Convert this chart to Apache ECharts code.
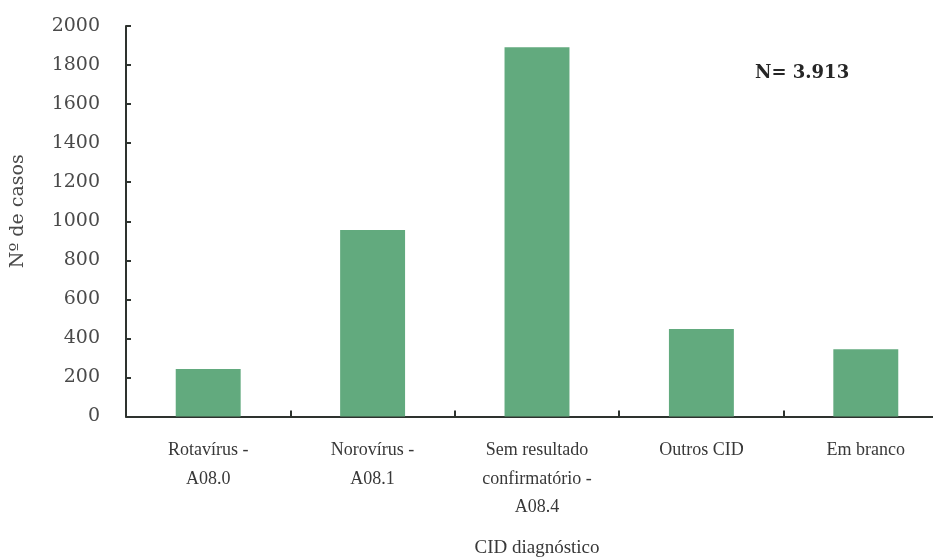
<!DOCTYPE html>
<html>
<head>
<meta charset="utf-8">
<script src="https://cdn.jsdelivr.net/npm/echarts@6/dist/echarts.min.js"></script>
<style>
  html, body { margin: 0; padding: 0; background: #fff; }
  #chart { width: 933px; height: 559px; }
</style>
</head>
<body>
<div id="chart"></div>
<script>
// Casos por CID diagnóstico
const categories = [
  'Rotavírus -\nA08.0',
  'Norovírus -\nA08.1',
  'Sem resultado\nconfirmatório -\nA08.4',
  'Outros CID',
  'Em branco'
];
const casos = [243, 955, 1891, 448, 344];
const yTicks = { min: 0, max: 2000, interval: 200 };
const totalLabel = 'N= 3.913';

const chart = echarts.init(document.getElementById('chart'));
chart.setOption({
  animation: false,
  backgroundColor: '#ffffff',
  grid: { left: 126, width: 822, top: 26, height: 390.5, outerBoundsMode: 'none', containLabel: false },
  graphic: [{
    type: 'text',
    left: 755,
    top: 64,
    style: {
      text: totalLabel,
      font: 'bold 18px "DejaVu Serif"',
      fill: '#262626'
    }
  }],
  xAxis: {
    type: 'category',
    data: categories,
    name: 'CID diagnóstico',
    nameLocation: 'middle',
    nameGap: 122,
    nameTextStyle: { fontFamily: 'Liberation Serif', fontSize: 19, color: '#383838' },
    axisLine: { lineStyle: { color: '#2e332f', width: 2 } },
    axisTick: { show: true, inside: true, length: 6, lineStyle: { color: '#2e332f', width: 2 } },
    axisLabel: {
      fontFamily: 'Liberation Serif',
      fontSize: 18,
      color: '#383838',
      lineHeight: 28.5,
      margin: 20,
      interval: 0
    }
  },
  yAxis: {
    type: 'value',
    min: yTicks.min,
    max: yTicks.max,
    interval: yTicks.interval,
    name: 'Nº de casos',
    nameLocation: 'middle',
    nameGap: 98,
    nameTextStyle: { fontFamily: 'DejaVu Serif', fontSize: 19, color: '#4a4a4a', padding: [0, 0, 0, 20] },
    splitLine: { show: false },
    axisLine: { show: true, lineStyle: { color: '#2e332f', width: 2 } },
    axisTick: { show: true, inside: true, length: 5, lineStyle: { color: '#2e332f', width: 2 } },
    axisLabel: {
      fontFamily: 'DejaVu Serif',
      fontSize: 19,
      color: '#4a4a4a',
      margin: 26,
      formatter: function (v) { return String(v); }
    }
  },
  series: [{
    type: 'bar',
    data: casos,
    barWidth: '39.5%',
    itemStyle: { color: '#62aa7e' }
  }]
});
</script>
</body>
</html>
